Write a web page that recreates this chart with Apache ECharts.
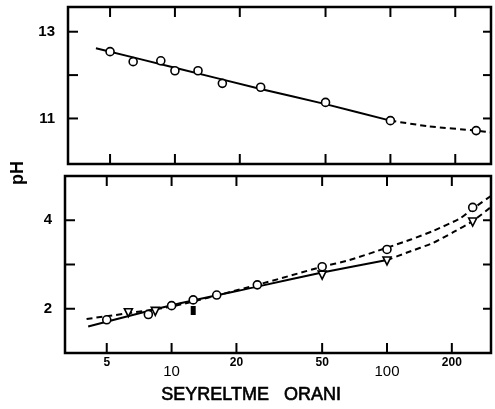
<!DOCTYPE html>
<html>
<head>
<meta charset="utf-8">
<script src="https://cdn.jsdelivr.net/npm/echarts@6/dist/echarts.min.js"></script>
<style>
  html, body { margin: 0; padding: 0; background: #fff; }
  #chart { width: 495px; height: 409px; }
</style>
</head>
<body>
<div id="chart"></div>
<script>
// pH against dilution ratio (log scale), two panels

// Axis ticks
const dilutionTicks = [5, 10, 20, 50, 100, 200];
const lowTickLabels = [10, 100];          // these two labels sit a line lower
const upperPhTicks = [11, 12, 13];
const upperPhLabels = [11, 13];
const lowerPhTicks = [2, 3, 4];
const lowerPhLabels = [2, 4];

// Upper panel: measured pH and fitted curve
const upperPoints = [[5, 12.54], [6.4, 12.31], [8.6, 12.33], [10, 12.10], [12.8, 12.10],
                     [16.6, 11.81], [25, 11.72], [50, 11.37], [100, 10.95], [250, 10.72]];
const upperFitSolid = [[4.3, 12.62], [10, 12.17], [25, 11.68], [50, 11.33], [100, 10.95]];
const upperFitDashed = [[100, 10.95], [150, 10.82], [250, 10.72], [293, 10.68]];

// Lower panel: two sample sets and their curves
const lowerCircles = [[5, 1.75], [7.8, 1.87], [10, 2.07], [12.6, 2.2], [16.2, 2.31],
                      [25, 2.54], [50, 2.95], [100, 3.34], [250, 4.29]];
const lowerTriangles = [[6.3, 1.91], [8.4, 1.94], [50, 2.76], [100, 3.08], [250, 3.96]];
const lowerFilled = [[12.6, 1.96]];
const circleFitDashed = [[4.03, 1.77], [10, 2.05], [25, 2.54], [50, 2.95], [67, 3.10], [100, 3.38],
                         [130, 3.57], [164, 3.76], [218, 4.04], [250, 4.26], [304, 4.55]];
const triangleFitSolid = [[4.1, 1.60], [10, 2.08], [25, 2.5], [50, 2.82], [100, 3.10]];
const triangleFitDashed = [[100, 3.10], [124, 3.27], [164, 3.49], [203, 3.73], [250, 3.98], [304, 4.30]];

// Axis extents
const upperX = [3.19, 293], upperY = [9.95, 13.57];
const lowerX = [3.2, 304],  lowerY = [1.0, 5.0];

const INK = '#000';
const NUM_FONT = '"Liberation Sans", Arial, sans-serif';

// Tick marks along top and bottom edges (inward), optional labels below
function xTickSeries(gridIdx, xr, yr, withLabels) {
  return {
    type: 'custom', xAxisIndex: gridIdx, yAxisIndex: gridIdx, silent: true, z: 5,
    data: dilutionTicks.map(v => [v, yr[0]]),
    renderItem: function (params, api) {
      const v = api.value(0);
      const b = api.coord([v, yr[0]]);
      const t = api.coord([v, yr[1]]);
      const kids = [
        { type: 'line', shape: { x1: b[0], y1: b[1], x2: b[0], y2: b[1] - 10 }, style: { stroke: INK, lineWidth: 2 } },
        { type: 'line', shape: { x1: t[0], y1: t[1], x2: t[0], y2: t[1] + 10 }, style: { stroke: INK, lineWidth: 2 } }
      ];
      if (withLabels) {
        const low = lowTickLabels.indexOf(v) >= 0;
        kids.push({
          type: 'text',
          style: {
            text: String(v), x: b[0], y: b[1] + (low ? 19 : 10),
            align: 'center', verticalAlign: 'middle',
            font: (low ? 'normal 15px ' : 'bold 12px ') + NUM_FONT, fill: INK
          }
        });
      }
      return { type: 'group', children: kids };
    }
  };
}

// Tick marks on left and right edges, labels on the left
function yTickSeries(gridIdx, xr, ticks, labels) {
  return {
    type: 'custom', xAxisIndex: gridIdx, yAxisIndex: gridIdx, silent: true, z: 5,
    data: ticks.map(v => [xr[0], v]),
    renderItem: function (params, api) {
      const v = api.value(1);
      const l = api.coord([xr[0], v]);
      const r = api.coord([xr[1], v]);
      const kids = [
        { type: 'line', shape: { x1: l[0], y1: l[1], x2: l[0] + 10, y2: l[1] }, style: { stroke: INK, lineWidth: 2 } },
        { type: 'line', shape: { x1: r[0], y1: r[1], x2: r[0] - 8, y2: r[1] }, style: { stroke: INK, lineWidth: 2 } }
      ];
      if (labels.indexOf(v) >= 0) {
        kids.push({
          type: 'text',
          style: {
            text: String(v), x: l[0] - 13, y: l[1],
            align: 'right', verticalAlign: 'middle',
            font: 'bold 15px ' + NUM_FONT, fill: INK
          }
        });
      }
      return { type: 'group', children: kids };
    }
  };
}

function lineSeries(idx, data, dashed) {
  return {
    type: 'line', xAxisIndex: idx, yAxisIndex: idx, data: data,
    showSymbol: false, smooth: 0.2, z: 3,
    lineStyle: { color: INK, width: 2, type: dashed ? [6, 4] : 'solid' }
  };
}

function markerSeries(idx, data, symbol, rotate) {
  return {
    type: 'scatter', xAxisIndex: idx, yAxisIndex: idx, data: data, z: 6,
    symbol: symbol, symbolSize: 8, symbolRotate: rotate || 0,
    itemStyle: { color: '#fff', opacity: 1, borderColor: INK, borderWidth: 1.6 }
  };
}

const hiddenAxis = {
  axisLine: { show: false }, axisTick: { show: false },
  axisLabel: { show: false }, splitLine: { show: false }
};

const chart = echarts.init(document.getElementById('chart'), null, { renderer: 'canvas' });
chart.setOption({
  animation: false,
  backgroundColor: '#fff',
  grid: [
    { left: 68, right: 4, top: 7, height: 157, show: true, borderColor: INK, borderWidth: 2.5 },
    { left: 65, right: 4, top: 176, height: 177, show: true, borderColor: INK, borderWidth: 2.5 }
  ],
  xAxis: [
    Object.assign({ type: 'log', gridIndex: 0, min: upperX[0], max: upperX[1] }, hiddenAxis),
    Object.assign({ type: 'log', gridIndex: 1, min: lowerX[0], max: lowerX[1] }, hiddenAxis)
  ],
  yAxis: [
    Object.assign({ type: 'value', gridIndex: 0, min: upperY[0], max: upperY[1] }, hiddenAxis),
    Object.assign({ type: 'value', gridIndex: 1, min: lowerY[0], max: lowerY[1] }, hiddenAxis)
  ],
  graphic: [
    {
      type: 'text', left: 9, top: 161, rotation: Math.PI / 2,
      style: { text: 'pH', font: 'bold 18px ' + NUM_FONT, fill: INK }
    },
    {
      type: 'text', left: 161, top: 386,
      style: { text: 'SEYRELTME   ORANI', font: 'normal 18px ' + NUM_FONT, fill: INK,
               stroke: INK, lineWidth: 0.6 }
    }
  ],
  series: [
    xTickSeries(0, upperX, upperY, false),
    yTickSeries(0, upperX, upperPhTicks, upperPhLabels),
    xTickSeries(1, lowerX, lowerY, true),
    yTickSeries(1, lowerX, lowerPhTicks, lowerPhLabels),

    lineSeries(0, upperFitSolid, false),
    lineSeries(0, upperFitDashed, true),
    markerSeries(0, upperPoints, 'circle'),

    lineSeries(1, circleFitDashed, true),
    lineSeries(1, triangleFitSolid, false),
    lineSeries(1, triangleFitDashed, true),
    {
      type: 'scatter', xAxisIndex: 1, yAxisIndex: 1, data: lowerFilled, z: 6,
      symbol: 'rect', symbolSize: [5, 9], itemStyle: { color: INK, opacity: 1 }
    },
    markerSeries(1, lowerTriangles, 'triangle', 180),
    markerSeries(1, lowerCircles, 'circle')
  ]
});
</script>
</body>
</html>
